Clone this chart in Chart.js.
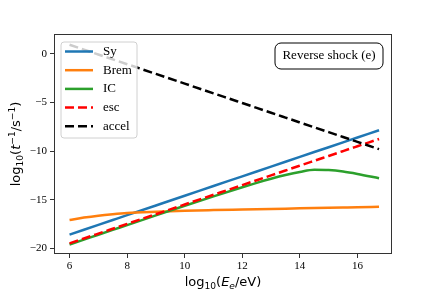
<!DOCTYPE html>
<html>
<head>
<meta charset="utf-8">
<script src="https://cdn.jsdelivr.net/npm/chart.js@4/dist/chart.umd.min.js"></script>
<style>
  html, body { margin: 0; padding: 0; background: #fff; }
  canvas { display: block; }
</style>
</head>
<body>
<canvas id="myChart" width="436" height="291"></canvas>
<script>
// log10(E_e / eV)
const energies = [6, 6.5, 7, 7.5, 8, 9, 10, 11, 12, 12.5, 13, 13.5, 14, 14.5, 15, 15.5, 16, 16.75];

// log10(t^-1 / s^-1) for each process
const sy    = [-18.6, -18.1, -17.6, -17.1, -16.6, -15.6, -14.6, -13.6, -12.6, -12.1, -11.6, -11.1, -10.6, -10.1, -9.6, -9.1, -8.6, -7.85];
const brem  = [-17.1, -16.85, -16.65, -16.5, -16.38, -16.25, -16.15, -16.08, -16.02, -15.99, -15.96, -15.93, -15.9, -15.87, -15.84, -15.81, -15.78, -15.73];
const ic    = [-19.62, -19.12, -18.62, -18.12, -17.62, -16.62, -15.63, -14.66, -13.72, -13.27, -12.85, -12.47, -12.15, -11.92, -11.95, -12.1, -12.35, -12.8];
const esc   = [-19.5, -19.0, -18.5, -18.0, -17.5, -16.5, -15.5, -14.5, -13.5, -13.0, -12.5, -12.0, -11.5, -11.0, -10.5, -10.0, -9.5, -8.75];
const accel = [0.95, 0.45, -0.05, -0.55, -1.05, -2.05, -3.05, -4.05, -5.05, -5.55, -6.05, -6.55, -7.05, -7.55, -8.05, -8.55, -9.05, -9.8];

const xTicks = [6, 8, 10, 12, 14, 16];
const yTicks = [-20, -15, -10, -5, 0];

const seriesNames = ['Sy', 'Brem', 'IC', 'esc', 'accel'];
const seriesColors = ['#1f77b4', '#ff7f0e', '#2ca02c', '#ff0000', '#000000'];
const seriesDash = [[], [], [], [9, 4], [9, 4]];
const seriesValues = [sy, brem, ic, esc, accel];

const toPoints = ys => ys.map((y, i) => ({ x: energies[i], y: y }));

const SERIF = '"Liberation Serif", "DejaVu Serif", serif';
const SANS = '"DejaVu Sans", sans-serif';

// draw a run of text pieces: {t, it, sub, sup}
function richWidth(ctx, parts, size) {
  let w = 0;
  parts.forEach(p => {
    const s = (p.sub || p.sup) ? size * 0.7 : size;
    ctx.font = (p.it ? 'italic ' : '') + s + 'px ' + SANS;
    w += ctx.measureText(p.t).width;
  });
  return w;
}
function drawRich(ctx, parts, size, x, y) {
  let cx = x;
  ctx.textBaseline = 'alphabetic';
  ctx.textAlign = 'left';
  parts.forEach(p => {
    const s = (p.sub || p.sup) ? size * 0.7 : size;
    ctx.font = (p.it ? 'italic ' : '') + s + 'px ' + SANS;
    let dy = 0;
    if (p.sub) dy = size * 0.22;
    if (p.sup) dy = -size * 0.4;
    ctx.fillText(p.t, cx, y + dy);
    cx += ctx.measureText(p.t).width;
  });
}

const xTitle = [{ t: 'log' }, { t: '10', sub: true }, { t: '(' }, { t: 'E', it: true }, { t: 'e', it: true, sub: true }, { t: '/eV)' }];
const yTitle = [{ t: 'log' }, { t: '10', sub: true }, { t: '(' }, { t: 't', it: true }, { t: '\u22121', sup: true }, { t: '/s' }, { t: '\u22121', sup: true }, { t: ')' }];

function roundRect(ctx, x, y, w, h, r) {
  ctx.beginPath();
  ctx.moveTo(x + r, y);
  ctx.arcTo(x + w, y, x + w, y + h, r);
  ctx.arcTo(x + w, y + h, x, y + h, r);
  ctx.arcTo(x, y + h, x, y, r);
  ctx.arcTo(x, y, x + w, y, r);
  ctx.closePath();
}

const decorations = {
  id: 'decorations',
  afterDatasetsDraw(chart) {
    const ctx = chart.ctx;
    const a = chart.chartArea;
    ctx.save();
    // frame
    ctx.strokeStyle = '#333';
    ctx.lineWidth = 1;
    ctx.strokeRect(a.left + 0.5, a.top + 0.5, a.right - a.left - 1, a.bottom - a.top - 1);

    // legend
    const lx = a.left + 7, ly = a.top + 8, lw = 76, lh = 96;
    roundRect(ctx, lx, ly, lw, lh, 3);
    ctx.fillStyle = 'rgba(255,255,255,0.8)';
    ctx.fill();
    ctx.strokeStyle = '#d0d0d0';
    ctx.stroke();
    ctx.font = '13px ' + SERIF;
    ctx.textBaseline = 'middle';
    ctx.textAlign = 'left';
    seriesNames.forEach((n, i) => {
      const yy = ly + 9.5 + i * 18.7;
      ctx.beginPath();
      ctx.setLineDash(seriesDash[i]);
      ctx.strokeStyle = seriesColors[i];
      ctx.lineWidth = 2.5;
      ctx.moveTo(lx + 4, yy);
      ctx.lineTo(lx + 32, yy);
      ctx.stroke();
      ctx.setLineDash([]);
      ctx.fillStyle = '#000';
      ctx.fillText(n, lx + 42, yy);
    });

    // annotation box
    const bx = 275, by = 43, bw = 108, bh = 26;
    roundRect(ctx, bx, by, bw, bh, 6);
    ctx.fillStyle = '#fff';
    ctx.fill();
    ctx.strokeStyle = '#000';
    ctx.lineWidth = 1;
    ctx.stroke();
    ctx.fillStyle = '#000';
    ctx.textAlign = 'center';
    ctx.fillText('Reverse shock (e)', bx + bw / 2, by + bh / 2);

    // axis titles
    ctx.fillStyle = '#000';
    const xs = 13;
    const xw = richWidth(ctx, xTitle, xs);
    drawRich(ctx, xTitle, xs, (a.left + a.right) / 2 - xw / 2, 286);
    const yw = richWidth(ctx, yTitle, xs);
    ctx.translate(20, (a.top + a.bottom) / 2);
    ctx.rotate(-Math.PI / 2);
    drawRich(ctx, yTitle, xs, -yw / 2, 0);
    ctx.restore();
  }
};

const fmt = v => (v < 0 ? '\u2212' + Math.abs(v) : String(v));

new Chart(document.getElementById('myChart').getContext('2d'), {
  type: 'line',
  data: {
    datasets: seriesNames.map((n, i) => ({
      label: n,
      data: toPoints(seriesValues[i]),
      borderColor: seriesColors[i],
      borderWidth: 2.5,
      borderDash: seriesDash[i],
      pointRadius: 0,
      fill: false,
      cubicInterpolationMode: 'monotone',
      order: 5 - i
    }))
  },
  plugins: [decorations],
  options: {
    responsive: false,
    animation: false,
    layout: { padding: { left: 0, right: 44, top: 34, bottom: 0 } },
    plugins: { legend: { display: false }, tooltip: { enabled: false } },
    scales: {
      x: {
        type: 'linear',
        min: 5.46,
        max: 17.2,
        afterFit: s => { s.height = 37; },
        afterBuildTicks: s => { s.ticks = xTicks.map(v => ({ value: v })); },
        ticks: { font: { family: SERIF, size: 11 }, color: '#000', padding: 2, maxRotation: 0, callback: fmt },
        grid: { drawOnChartArea: false, tickLength: 4, tickColor: '#333' },
        border: { display: false }
      },
      y: {
        type: 'linear',
        min: -20.6,
        max: 2.06,
        afterFit: s => { s.width = 54; },
        afterBuildTicks: s => { s.ticks = yTicks.map(v => ({ value: v })); },
        ticks: { font: { family: SERIF, size: 11 }, color: '#000', padding: 3, callback: fmt },
        grid: { drawOnChartArea: false, tickLength: 4, tickColor: '#333' },
        border: { display: false }
      }
    }
  }
});
</script>
</body>
</html>
